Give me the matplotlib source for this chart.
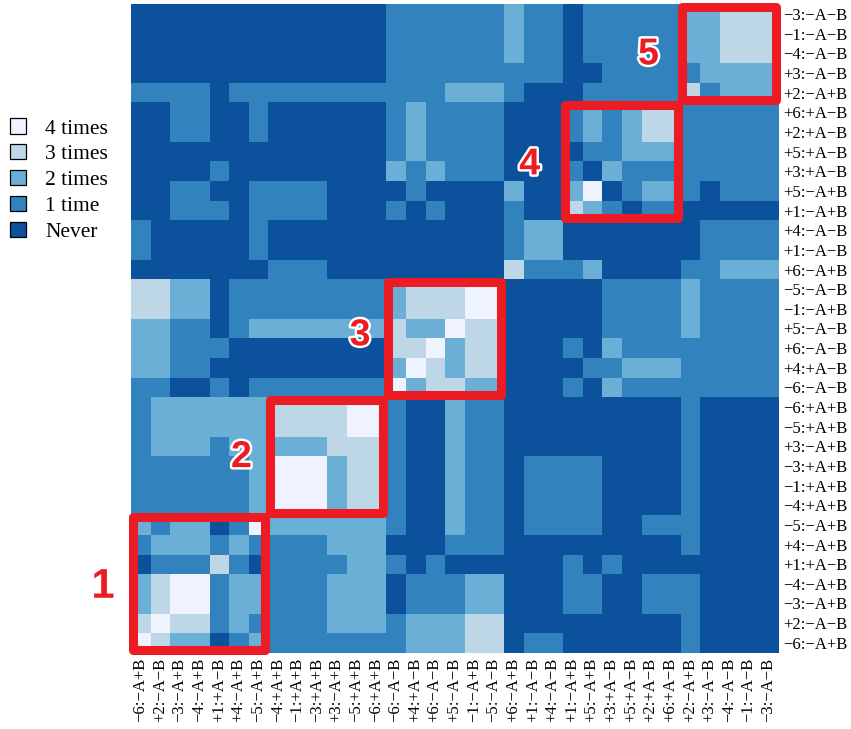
import matplotlib
matplotlib.use("Agg")
import matplotlib.pyplot as plt
import matplotlib.patheffects as pe
from matplotlib.colors import ListedColormap, BoundaryNorm
from matplotlib.patches import Patch, Rectangle
import numpy as np

# Move labels, in the order used on both axes (bottom-to-top on y, left-to-right on x)
labels = [
    "−6:−A+B", "+2:−A−B", "−3:−A+B", "−4:−A+B", "+1:+A−B", "+4:−A+B", "−5:−A+B",
    "−4:+A+B", "−1:+A+B", "−3:+A+B", "+3:−A+B", "−5:+A+B", "−6:+A+B",
    "−6:−A−B", "+4:+A−B", "+6:−A−B", "+5:−A−B", "−1:−A+B", "−5:−A−B",
    "+6:−A+B", "+1:−A−B", "+4:−A−B",
    "+1:−A+B", "+5:−A+B", "+3:+A−B", "+5:+A−B", "+2:+A−B", "+6:+A−B",
    "+2:−A+B", "+3:−A−B", "−4:−A−B", "−1:−A−B", "−3:−A−B",
]

# Co-occurrence counts: row i corresponds to labels[i]
counts = [
    [4,3,2,2,0,1,2,1,1,1,1, 1,1,1,2,2,2,3,3,0,1,1, 0,0,0,0,0,0,1,0,0,0,0],
    [3,4,3,3,1,2,1,1,1,1,2, 2,2,1,2,2,2,3,3,0,0,0, 0,0,0,0,0,0,1,0,0,0,0],
    [2,3,4,4,1,2,2,1,1,1,2, 2,2,0,1,1,1,2,2,0,0,0, 1,1,0,0,1,1,1,0,0,0,0],
    [2,3,4,4,1,2,2,1,1,1,2, 2,2,0,1,1,1,2,2,0,0,0, 1,1,0,0,1,1,1,0,0,0,0],
    [0,1,1,1,3,1,0,1,1,1,1, 2,2,1,0,1,0,0,0,0,0,0, 1,0,1,0,0,0,0,0,0,0,0],
    [1,2,2,2,1,2,1,1,1,1,2, 2,2,0,0,0,1,1,1,0,0,0, 0,0,0,0,0,0,1,0,0,0,0],
    [2,1,2,2,0,1,4,2,2,2,2, 2,2,1,0,0,2,1,1,0,1,1, 1,1,0,0,1,1,1,0,0,0,0],
    [1,1,1,1,1,1,2,4,4,4,2, 3,3,1,0,0,2,1,1,0,1,1, 1,1,0,0,0,0,1,0,0,0,0],
    [1,1,1,1,1,1,2,4,4,4,2, 3,3,1,0,0,2,1,1,0,1,1, 1,1,0,0,0,0,1,0,0,0,0],
    [1,1,1,1,1,1,2,4,4,4,2, 3,3,1,0,0,2,1,1,0,1,1, 1,1,0,0,0,0,1,0,0,0,0],
    [1,2,2,2,1,2,2,2,2,2,3, 3,3,1,0,0,2,1,1,0,0,0, 0,0,0,0,0,0,1,0,0,0,0],
    [1,2,2,2,2,2,2,3,3,3,3, 4,4,1,0,0,2,1,1,0,0,0, 0,0,0,0,0,0,1,0,0,0,0],
    [1,2,2,2,2,2,2,3,3,3,3, 4,4,1,0,0,2,1,1,0,0,0, 0,0,0,0,0,0,1,0,0,0,0],
    [1,1,0,0,1,0,1,1,1,1,1, 1,1,4,2,3,3,2,2,0,0,0, 1,0,2,1,1,1,1,1,1,1,1],
    [2,2,1,1,0,0,0,0,0,0,0, 0,0,2,4,3,2,3,3,0,0,0, 0,1,1,2,2,2,1,1,1,1,1],
    [2,2,1,1,1,0,0,0,0,0,0, 0,0,3,3,4,2,3,3,0,0,0, 1,0,2,1,1,1,1,1,1,1,1],
    [2,2,1,1,0,1,2,2,2,2,2, 2,2,3,2,2,4,3,3,0,0,0, 0,0,1,1,1,1,2,1,1,1,1],
    [3,3,2,2,0,1,1,1,1,1,1, 1,1,2,3,3,3,4,4,0,0,0, 0,0,1,1,1,1,2,1,1,1,1],
    [3,3,2,2,0,1,1,1,1,1,1, 1,1,2,3,3,3,4,4,0,0,0, 0,0,1,1,1,1,2,1,1,1,1],
    [0,0,0,0,0,0,0,1,1,1,0, 0,0,0,0,0,0,0,0,3,1,1, 1,2,0,0,0,0,1,1,2,2,2],
    [1,0,0,0,0,0,1,0,0,0,0, 0,0,0,0,0,0,0,0,1,2,2, 0,0,0,0,0,0,0,1,1,1,1],
    [1,0,0,0,0,0,1,0,0,0,0, 0,0,0,0,0,0,0,0,1,2,2, 0,0,0,0,0,0,0,1,1,1,1],
    [0,0,1,1,1,0,1,1,1,1,0, 0,0,1,0,1,0,0,0,1,0,0, 3,2,1,0,1,1,0,0,0,0,0],
    [0,0,1,1,0,0,1,1,1,1,0, 0,0,0,1,0,0,0,0,2,0,0, 2,4,0,1,2,2,1,0,1,1,1],
    [0,0,0,0,1,0,0,0,0,0,0, 0,0,2,1,2,1,1,1,0,0,0, 1,0,2,1,1,1,1,1,1,1,1],
    [0,0,0,0,0,0,0,0,0,0,0, 0,0,1,2,1,1,1,1,0,0,0, 0,1,1,2,2,2,1,1,1,1,1],
    [0,0,1,1,0,0,1,0,0,0,0, 0,0,1,2,1,1,1,1,0,0,0, 1,2,1,2,3,3,1,1,1,1,1],
    [0,0,1,1,0,0,1,0,0,0,0, 0,0,1,2,1,1,1,1,0,0,0, 1,2,1,2,3,3,1,1,1,1,1],
    [1,1,1,1,0,1,1,1,1,1,1, 1,1,1,1,1,2,2,2,1,0,0, 0,1,1,1,1,1,3,1,2,2,2],
    [0,0,0,0,0,0,0,0,0,0,0, 0,0,1,1,1,1,1,1,1,1,1, 0,0,1,1,1,1,1,2,2,2,2],
    [0,0,0,0,0,0,0,0,0,0,0, 0,0,1,1,1,1,1,1,2,1,1, 0,1,1,1,1,1,2,2,3,3,3],
    [0,0,0,0,0,0,0,0,0,0,0, 0,0,1,1,1,1,1,1,2,1,1, 0,1,1,1,1,1,2,2,3,3,3],
    [0,0,0,0,0,0,0,0,0,0,0, 0,0,1,1,1,1,1,1,2,1,1, 0,1,1,1,1,1,2,2,3,3,3],
]

# Clusters: (first index, last index, tag)
clusters = [(0, 6, "1"), (7, 12, "2"), (13, 18, "3"), (22, 27, "4"), (28, 32, "5")]

level_names = ["Never", "1 time", "2 times", "3 times", "4 times"]
level_colors = ["#0c519b", "#3182bd", "#6baed6", "#bdd7e7", "#eff3ff"]

serif = "Liberation Serif"
red = "#ed1c24"

fig = plt.figure(figsize=(8.51, 7.29), dpi=100)
ax = fig.add_axes([130.5 / 851, 1 - 652.6 / 729, 647.5 / 851, 648.3 / 729])

cmap = ListedColormap(level_colors)
norm = BoundaryNorm(np.arange(-0.5, 5.5, 1), cmap.N)
ax.imshow(np.array(counts), cmap=cmap, norm=norm, origin="lower",
          aspect="auto", interpolation="nearest")

n = len(labels)
ax.set_xticks(range(n))
ax.set_xticklabels(labels, rotation=90, fontfamily=serif, fontsize=12)
ax.set_yticks(range(n))
ax.set_yticklabels(labels, fontfamily=serif, fontsize=12)
ax.yaxis.tick_right()
ax.tick_params(length=0, pad=4)
for s in ax.spines.values():
    s.set_visible(False)
ax.set_xlim(-0.5, n - 0.5)
ax.set_ylim(-0.5, n - 0.5)

# Red frames around clusters with their numbers
inset = 0.12
tag_pos = {"1": (-1.9, 2.85), "2": (5.15, 9.45), "3": (11.2, 15.65),
           "4": (19.85, 24.35), "5": (25.9, 29.95)}
for lo, hi, tag in clusters:
    ax.add_patch(Rectangle((lo - 0.5 + inset, lo - 0.5 + inset),
                           hi - lo + 1 - 2 * inset, hi - lo + 1 - 2 * inset,
                           fill=False, edgecolor=red, linewidth=6.5,
                           joinstyle="round", clip_on=False, zorder=5))
    tx, ty = tag_pos[tag]
    ax.text(tx, ty, tag, color=red, fontsize=30 if tag == "1" else 27,
            fontweight="bold", fontfamily="Liberation Sans",
            ha="center", va="center", zorder=6, clip_on=False,
            path_effects=[pe.withStroke(linewidth=3.5, foreground="white")])

# Legend, lightest level first
handles = [Patch(facecolor=c, edgecolor="black", linewidth=0.9)
           for c in level_colors[::-1]]
fig.legend(handles, level_names[::-1], loc="upper left",
           bbox_to_anchor=(0.004, 1 - 112 / 729), frameon=False,
           borderaxespad=0, prop={"family": serif, "size": 15.5},
           handlelength=0.75, handleheight=0.7, handletextpad=0.9,
           labelspacing=0.27, borderpad=0.3)

fig.savefig("out.png", dpi=100)
